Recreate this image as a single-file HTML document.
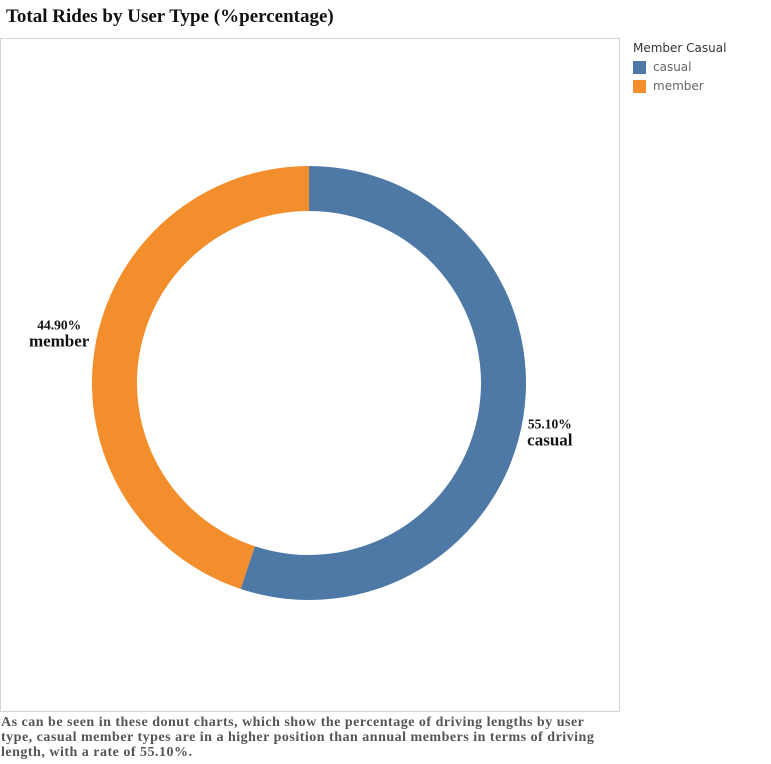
<!DOCTYPE html>
<html><head><meta charset="utf-8"><style>
body{margin:0;width:771px;height:764px;background:#fff;position:relative;overflow:hidden}
#title{position:absolute;left:6px;top:6px;font:bold 19px "Liberation Serif",serif;color:#111}
#frame{position:absolute;left:0;top:38px;width:618px;height:672px;border:1px solid #d4d4d4;box-sizing:content-box}
#legend{position:absolute;left:633px;top:41px;font:12px "DejaVu Sans","Liberation Sans",sans-serif;color:#333}
.le{display:flex;align-items:center;margin-top:5px;color:#666}
.sw{width:13px;height:13px;margin-right:7px}
#foot{position:absolute;left:1px;top:715px;white-space:nowrap;font:bold 14px/15px "Liberation Serif",serif;color:#555;letter-spacing:0.5px}
</style></head><body>
<div id="title">Total Rides by User Type (%percentage)</div>
<div id="frame"></div>
<svg id="chart" width="771" height="764" style="position:absolute;left:0;top:0"></svg>
<div id="legend">
<div>Member Casual</div>
<div class="le"><div class="sw" style="background:#4e79a7"></div>casual</div>
<div class="le"><div class="sw" style="background:#f28e2b"></div>member</div>
</div>
<div id="foot">As can be seen in these donut charts, which show the percentage of driving lengths by user<br>type, casual member types are in a higher position than annual members in terms of driving<br>length, with a rate of 55.10%.</div>
<script>
const categories=["casual","member"];
const values=[55.10,44.90];
const labels=["55.10%","44.90%"];
const colors=["#4e79a7","#f28e2b"];
const svg=document.getElementById('chart');
const NS="http://www.w3.org/2000/svg";
const cx=309,cy=383,R=217,r=172;
const total=values.reduce((a,b)=>a+b,0);
function pt(a,rad){return [cx+rad*Math.sin(a),cy-rad*Math.cos(a)];}
let start=0;
values.forEach((v,i)=>{
  const end=start+v/total*2*Math.PI;
  const large=(end-start)>Math.PI?1:0;
  const [x1,y1]=pt(start,R),[x2,y2]=pt(end,R),[x3,y3]=pt(end,r),[x4,y4]=pt(start,r);
  const p=document.createElementNS(NS,'path');
  p.setAttribute('d',`M${x1},${y1}A${R},${R} 0 ${large} 1 ${x2},${y2}L${x3},${y3}A${r},${r} 0 ${large} 0 ${x4},${y4}Z`);
  p.setAttribute('fill',colors[i]);
  
  
  svg.appendChild(p);
  const mid=(start+end)/2;
  const left=Math.sin(mid)<0;
  const [lx0,ly]=pt(mid,R+30);
  const lx=lx0+(left?-6:-3);
  const g=document.createElementNS(NS,'text');
  g.setAttribute('x',lx);g.setAttribute('y',ly);
  g.setAttribute('text-anchor','middle');
  g.setAttribute('font-family','Liberation Serif, serif');
  g.setAttribute('font-weight','bold');g.setAttribute('fill','#111');
  
  
  const t1=document.createElementNS(NS,'tspan');t1.setAttribute('x',lx);t1.setAttribute('dy',left?'-14':'6');t1.setAttribute('font-size','13.5');t1.textContent=labels[i];
  const t2=document.createElementNS(NS,'tspan');t2.setAttribute('x',lx);t2.setAttribute('dy','17');t2.setAttribute('font-size','17');t2.textContent=categories[i];
  g.appendChild(t1);g.appendChild(t2);svg.appendChild(g);
  start=end;
});
</script>
</body></html>
